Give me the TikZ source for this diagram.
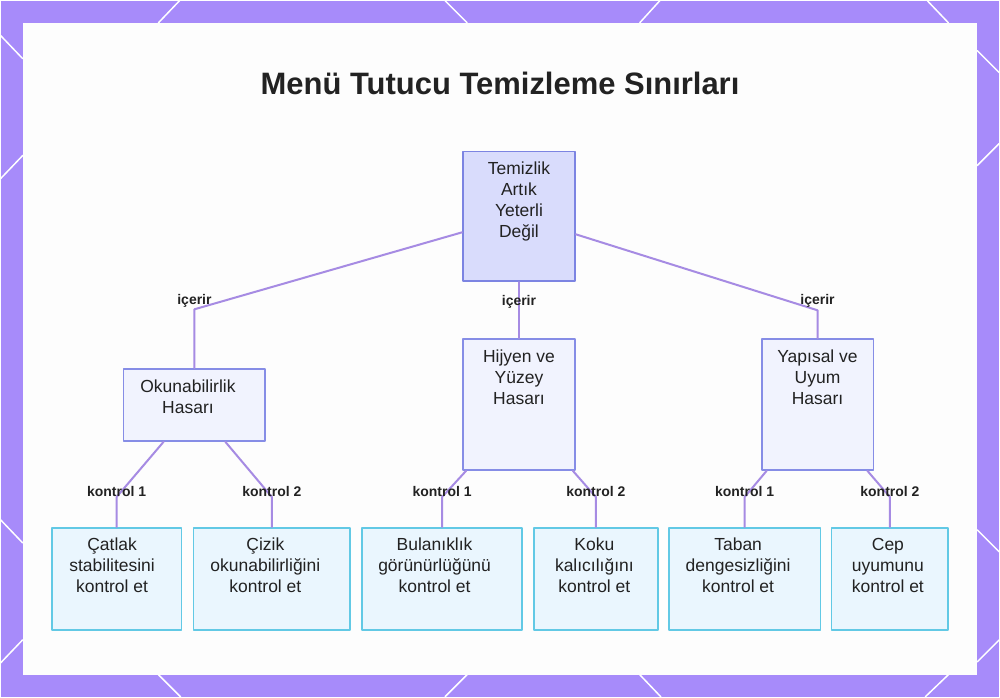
\documentclass[tikz,border=0pt]{standalone}
\usepackage{fontspec}
\setmainfont{Liberation Sans}
\usetikzlibrary{calc}
\definecolor{frame}{HTML}{A78BFA}
\definecolor{paper}{HTML}{FDFDFD}
\definecolor{ink}{HTML}{222222}
\definecolor{link}{HTML}{A68BE3}
\definecolor{rootline}{HTML}{7C84E2}
\definecolor{rootfill}{HTML}{D9DCFC}
\definecolor{midline}{HTML}{868DE6}
\definecolor{midfill}{HTML}{F1F3FE}
\definecolor{leafline}{HTML}{62C9E5}
\definecolor{leaffill}{HTML}{EAF6FE}
\tikzset{
  every picture/.style={line cap=round, line join=round},
  box/.style={inner sep=0pt, line width=1.8pt, text=ink, anchor=north,
    font=\fontsize{17.5}{21}\selectfont},
  rootbox/.style={box, draw=rootline, fill=rootfill},
  midbox/.style={box, draw=midline, fill=midfill},
  leafbox/.style={box, draw=leafline, fill=leaffill},
  linkline/.style={draw=link, line width=2pt},
  lbl/.style={font=\fontsize{14}{16}\selectfont\bfseries, text=ink, inner sep=1pt},
  deco/.style={draw=white, line width=1.5pt},
  title/.style={font=\fontsize{31}{36}\selectfont\bfseries, text=ink},
}
% text block of a box: [left shift x2]{width}{height}{lines}
\newcommand{\boxtext}[4][0]{\parbox[t][#3pt][t]{#2pt}{\centering
  \rightskip=#1pt plus 1fil\rule{0pt}{23pt}#4}}

\begin{document}
\begin{tikzpicture}[x=1pt, y=-1pt]
  % ---------------- frame ----------------
  \fill[frame] (0,0) rectangle (1000,697);
  \foreach \xa/\ya/\xb/\yb in {179/0/158/22, 445/0/467/22, 660/0/640/22, 928/0/949/22,
      158/675/180/697, 467/675/445/697, 640/675/661/697, 949/675/926/697,
      0/35/22/58, 22/155/0/178, 0/520/22/543, 22/640/0/663,
      978/50/1000/72, 1000/143/978/165, 978/530/1000/552, 1000/640/978/662}
    \draw[deco] (\xa,\ya) -- (\xb,\yb);
  \fill[paper] (22,22) rectangle (978,675);
  \useasboundingbox (0,0) rectangle (1000,697);

  \node[title] (ttl) at (500,83) {Menü Tutucu Temizleme Sınırları};

  % ---------------- boxes ----------------
  \node[rootbox] (root) at (519,150) {\boxtext{112}{130}{Temizlik\\Artık\\Yeterli\\Değil}};

  \node[midbox] (oku) at (194,368) {\boxtext[13]{142}{72}{Okunabilirlik\\Hasarı}};
  \node[midbox] (hij) at (519,338) {\boxtext{112}{131}{Hijyen ve\\Yüzey\\Hasarı}};
  \node[midbox] (yap) at (818,338) {\boxtext{112}{131}{Yapısal ve\\Uyum\\Hasarı}};

  \node[leafbox] (cat) at (116,527) {\boxtext[9]{130}{102}{Çatlak\\stabilitesini\\kontrol et}};
  \node[leafbox] (ciz) at (271.5,527) {\boxtext[13]{157}{102}{Çizik\\okunabilirliğini\\kontrol et}};
  \node[leafbox] (bul) at (442,527) {\boxtext[15]{160}{102}{Bulanıklık\\görünürlüğünü\\kontrol et}};
  \node[leafbox] (kok) at (596,527) {\boxtext[3]{124}{102}{Koku\\kalıcılığını\\kontrol et}};
  \node[leafbox] (tab) at (745,527) {\boxtext[13]{152}{102}{Taban\\dengesizliğini\\kontrol et}};
  \node[leafbox] (cep) at (890.5,527) {\boxtext[4]{117}{102}{Cep\\uyumunu\\kontrol et}};

  % ---------------- links ----------------
  \draw[linkline] ($(root.west)+(0,16)$) -- ($(oku.north)+(0,-59)$)
    node[lbl, yshift=8pt] {içerir} -- (oku.north);
  \draw[linkline] (root.south) -- (hij.north) node[lbl, pos=0.36] {içerir};
  \draw[linkline] ($(root.east)+(0,18)$) -- ($(yap.north)+(0,-28)$)
    node[lbl, yshift=9pt] {içerir} -- (yap.north);

  \draw[linkline] ($(oku.south)+(-31,0)$) -- ($(cat.north)+(0,-30)$)
    node[lbl, yshift=6pt] {kontrol 1} -- (cat.north);
  \draw[linkline] ($(oku.south)+(31,0)$) -- ($(ciz.north)+(0,-30)$)
    node[lbl, yshift=6pt] {kontrol 2} -- (ciz.north);
  \draw[linkline] ($(hij.south)+(-53,0)$) -- ($(bul.north)+(0,-30)$)
    node[lbl, yshift=6pt] {kontrol 1} -- (bul.north);
  \draw[linkline] ($(hij.south)+(54,0)$) -- ($(kok.north)+(0,-30)$)
    node[lbl, yshift=6pt] {kontrol 2} -- (kok.north);
  \draw[linkline] ($(yap.south)+(-51,0)$) -- ($(tab.north)+(0,-30)$)
    node[lbl, yshift=6pt] {kontrol 1} -- (tab.north);
  \draw[linkline] ($(yap.south)+(50,0)$) -- ($(cep.north)+(0,-30)$)
    node[lbl, yshift=6pt] {kontrol 2} -- (cep.north);
\end{tikzpicture}
\end{document}
